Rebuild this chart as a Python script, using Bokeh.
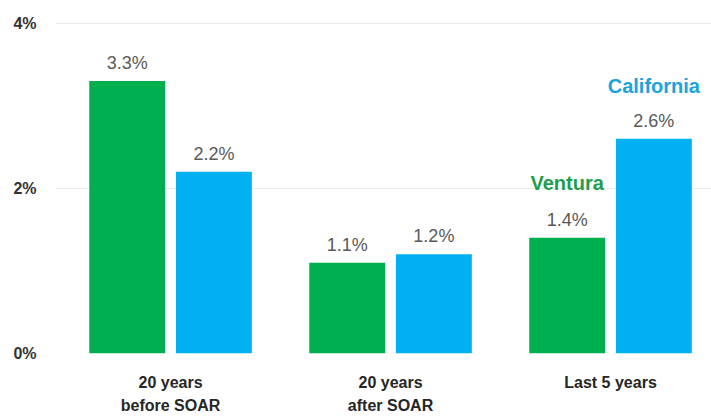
from bokeh.plotting import figure
from bokeh.models import ColumnDataSource, Range1d, FixedTicker
from bokeh.transform import dodge
from bokeh.core.properties import value
from bokeh.embed import file_html
from bokeh.resources import INLINE

categories = ["20 years\nbefore SOAR", "20 years\nafter SOAR", "Last 5 years"]
ventura = [3.3, 1.1, 1.4]
california = [2.2, 1.2, 2.6]
series_names = ["Ventura", "California"]
y_ticks = [0, 2, 4]
y_tick_labels = ["0%", "2%", "4%"]

GREEN = "#00B050"
BLUE = "#00B0F0"
FONT = "Liberation Sans"

xs = list(range(len(categories)))
src = ColumnDataSource(dict(
    x=xs,
    ventura=ventura,
    california=california,
    vlab=[f"{v:.1f}%" for v in ventura],
    clab=[f"{v:.1f}%" for v in california],
))

p = figure(width=711, height=417, output_backend="svg", toolbar_location=None,
           x_range=Range1d(-0.523, 2.459), y_range=Range1d(0, 4.14),
           min_border_left=55, min_border_right=0, min_border_top=11, min_border_bottom=60)
p.outline_line_color = None
p.background_fill_color = "white"
p.border_fill_color = "white"

off = 0.197
w = 0.345
p.vbar(x=dodge("x", -off), top="ventura", width=w, source=src, color=GREEN, line_color=None)
p.vbar(x=dodge("x", off), top="california", width=w, source=src, color=BLUE, line_color=None)

for col, lab, dx in (("ventura", "vlab", -off), ("california", "clab", off)):
    p.text(x=dodge("x", dx), y=col, text=lab, source=src, text_align="center",
           text_baseline="bottom", y_offset=-8, text_font=value(FONT),
           text_font_size="18px", text_color="#595959")

# series name labels above the last group
p.text(x=[xs[-1] - off], y=[ventura[-1]], text=[series_names[0]], y_offset=-55,
       text_align="center", text_baseline="middle", text_font=value(FONT),
       text_font_style="bold", text_font_size="20px", text_color="#1E9E4A")
p.text(x=[xs[-1] + off], y=[california[-1]], text=[series_names[1]], y_offset=-53,
       text_align="center", text_baseline="middle", text_font=value(FONT),
       text_font_style="bold", text_font_size="20px", text_color="#1DA3DC")

# axes
p.xaxis.ticker = FixedTicker(ticks=xs)
p.xaxis.major_label_overrides = {i: c for i, c in zip(xs, categories)}
p.xaxis.axis_line_color = None
p.xaxis.major_tick_line_color = None
p.xaxis.minor_tick_line_color = None
p.xaxis.major_label_standoff = 14
p.xaxis.major_label_text_font = FONT
p.xaxis.major_label_text_font_style = "bold"
p.xaxis.major_label_text_font_size = "16px"
p.xaxis.major_label_text_color = "#262626"
p.xaxis.major_label_text_line_height = 1.4

p.yaxis.ticker = FixedTicker(ticks=y_ticks)
p.yaxis.major_label_overrides = {t: l for t, l in zip(y_ticks, y_tick_labels)}
p.yaxis.axis_line_color = None
p.yaxis.major_tick_line_color = None
p.yaxis.minor_tick_line_color = None
p.yaxis.major_label_standoff = 13
p.yaxis.major_label_text_font = FONT
p.yaxis.major_label_text_font_style = "bold"
p.yaxis.major_label_text_font_size = "16px"
p.yaxis.major_label_text_color = "#333333"

p.xgrid.grid_line_color = None
p.ygrid.grid_line_color = "#EBEBEB"
p.ygrid.grid_line_width = 1

open("out.html", "w").write(file_html(p, INLINE))
